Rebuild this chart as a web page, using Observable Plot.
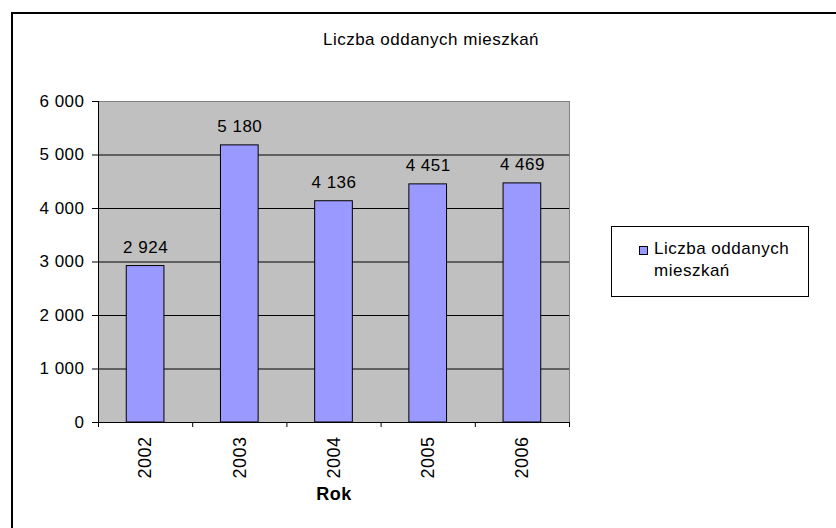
<!DOCTYPE html>
<html>
<head>
<meta charset="utf-8">
<script src="https://cdn.jsdelivr.net/npm/d3@7"></script>
<script src="https://cdn.jsdelivr.net/npm/@observablehq/plot@0.6"></script>
<style>
  html, body { margin: 0; padding: 0; background: #fff; }
  #wrap { position: relative; width: 836px; height: 528px; overflow: hidden; font-family: "Liberation Sans", Arial, sans-serif; color: #000; }
  #frameLines { position: absolute; left: 11px; top: 12px; width: 900px; height: 600px; border-top: 2px solid #000; border-left: 2px solid #000; box-sizing: border-box; }
  #title { position: absolute; left: 231px; top: 30px; width: 400px; text-align: center; font-size: 17px; line-height: 20px; letter-spacing: 0.5px; white-space: nowrap; }
  #legend { position: absolute; left: 611px; top: 226px; width: 198px; height: 71px; border: 1px solid #000; box-sizing: border-box; background: #fff; }
  #legendSwatch { position: absolute; left: 27px; top: 19px; width: 9px; height: 9px; border: 1px solid #000; background: #9999ff; box-sizing: border-box; }
  #legendText { position: absolute; left: 42px; top: 11px; font-size: 17px; line-height: 22px; letter-spacing: 0.5px; white-space: nowrap; }
  #chart { position: absolute; left: 0; top: 0; }
</style>
</head>
<body>
<div id="wrap">
  <div id="chart"></div>
  <div id="frameLines"></div>
  <div id="title"></div>
  <div id="legend"><div id="legendSwatch"></div><div id="legendText"></div></div>
</div>
<script>
// ---- data ----
const years = ["2002", "2003", "2004", "2005", "2006"];
const values = [2924, 5180, 4136, 4451, 4469];
const yTicks = [0, 1000, 2000, 3000, 4000, 5000, 6000];
const titleText = "Liczba oddanych mieszkań";
const seriesName = ["Liczba oddanych", "mieszkań"];
const xLabel = "Rok";

// ---- build ----
const fmt = d3.formatLocale({decimal: ",", thousands: "\u00a0", grouping: [3]}).format(",d");
const data = years.map((year, i) => ({i, year, value: values[i]}));
const boundaries = d3.range(years.length + 1).map(k => k - 0.5);
const gridTicks = yTicks.filter(v => v > yTicks[0] && v < yTicks[yTicks.length - 1]);

document.getElementById("title").textContent = titleText;
document.getElementById("legendText").innerHTML = seriesName.join("<br>");

const chart = Plot.plot({
  width: 836,
  height: 528,
  marginLeft: 98,
  marginRight: 267,
  marginTop: 101,
  marginBottom: 106,
  style: {fontFamily: "'Liberation Sans', Arial, sans-serif", fontSize: "17px", color: "black", background: "transparent", overflow: "visible"},
  x: {type: "linear", domain: [-0.5, years.length - 0.5], axis: null, label: null},
  y: {domain: [yTicks[0], yTicks[yTicks.length - 1]], axis: null, label: null},
  marks: [
    Plot.frame({fill: "#c0c0c0", stroke: "#808080", strokeWidth: 1}),
    Plot.ruleY(gridTicks, {stroke: "black", strokeWidth: 1}),
    Plot.rect(data, {x1: d => d.i - 0.2, x2: d => d.i + 0.2, y1: () => 0, y2: "value", fill: "#9999ff", stroke: "black", strokeWidth: 1}),
    Plot.ruleY([0], {stroke: "black", strokeWidth: 1}),
    Plot.ruleX([-0.5], {stroke: "black", strokeWidth: 1}),
    Plot.axisY({ticks: yTicks, tickFormat: fmt, tickSize: 6, tickPadding: 8, fontSize: 17, stroke: "black", label: null}),
    Plot.axisX({ticks: boundaries, tickFormat: () => "", tickSize: 5, stroke: "black", label: null}),
    Plot.text(data, {x: "i", y: () => 0, text: "year", rotate: -90, textAnchor: "end", dy: 14, fontSize: 18, fill: "black"}),
    Plot.text(data, {x: "i", y: "value", text: d => fmt(d.value), dy: -19, fontSize: 17, fill: "black"}),
    Plot.text([xLabel], {frameAnchor: "bottom", text: d => d, dy: 77, fontSize: 18, fontWeight: "bold", fill: "black"})
  ]
});
chart.querySelectorAll("text").forEach(t => t.style.letterSpacing = "0.5px");
document.getElementById("chart").appendChild(chart);
</script>
</body>
</html>
